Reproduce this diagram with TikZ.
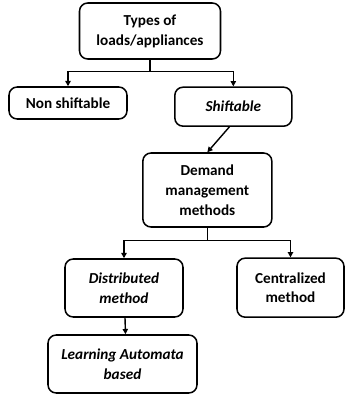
\documentclass[tikz,border=0pt]{standalone}
\usepackage{fontspec}
\setmainfont{Carlito}
\usetikzlibrary{arrows.meta,positioning}

\begin{document}
\begin{tikzpicture}[
    box/.style={draw, rectangle, line width=1.3pt, rounded corners=7pt,
        align=center, inner sep=2pt, font=\bfseries\fontsize{13}{17}\selectfont},
    arrow/.style={-{Triangle[length=4.5pt, width=4.5pt]}, line width=1.2pt},
]
\useasboundingbox (0,0) rectangle (10.35,-11.85);

\node[box, minimum width=4.23cm, minimum height=1.68cm] (types) at (4.5, -0.93) {Types of\\loads/appliances};

\node[box, minimum width=3.54cm, minimum height=0.96cm] (nonshift) at (2.04, -3.09) {Non shiftable};
\node[box, minimum width=3.51cm, minimum height=1.17cm] (shift) at (7.0, -3.2) {\itshape Shiftable};

\node[box, minimum width=3.87cm, minimum height=2.22cm] (demand) at (6.22, -5.7) {Demand\\management\\methods};

\node[box, minimum width=3.54cm, minimum height=1.74cm] (distr) at (3.72, -8.64) {\itshape Distributed\\\itshape method};
\node[box, minimum width=3.21cm, minimum height=1.77cm] (central) at (8.715, -8.63) {Centralized\\method};

\node[box, minimum width=4.47cm, minimum height=1.74cm] (learn) at (3.675, -10.92) {\itshape Learning Automata\\\itshape based};

\draw[arrow] (types.south) -- ++(0,-0.36) -| (nonshift.north);
\draw[arrow] (types.south) -- ++(0,-0.36) -| (shift.north);
\draw[arrow] ([xshift=-0.12cm]shift.south) -- (demand.north);
\draw[arrow] (demand.south) -- ++(0,-0.39) -| (distr.north);
\draw[arrow] (demand.south) -- ++(0,-0.39) -| (central.north);
\draw[arrow] ([xshift=0.03cm]distr.south) -- ([xshift=0.09cm]learn.north);

\end{tikzpicture}
\end{document}
